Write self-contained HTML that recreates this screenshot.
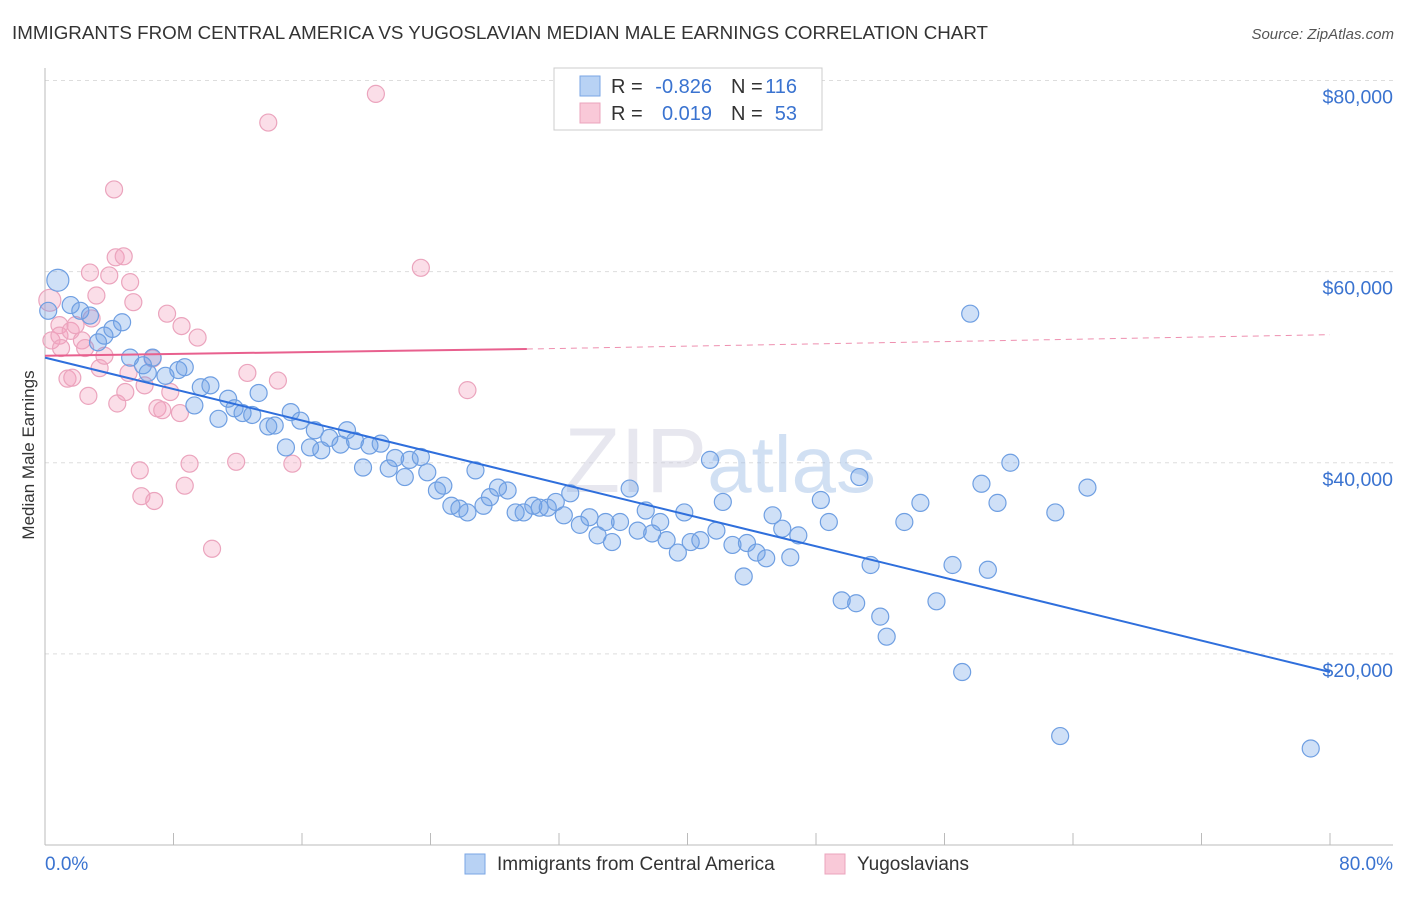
<!DOCTYPE html>
<html><head><meta charset="utf-8">
<style>
body{margin:0;background:#fff;font-family:"Liberation Sans",sans-serif;}
svg text{font-family:"Liberation Sans",sans-serif;}
</style></head>
<body>
<svg id="chart" width="1406" height="892" viewBox="0 0 1406 892" xmlns="http://www.w3.org/2000/svg">
<text x="12" y="39" font-size="18" fill="#333" textLength="976" lengthAdjust="spacingAndGlyphs">IMMIGRANTS FROM CENTRAL AMERICA VS YUGOSLAVIAN MEDIAN MALE EARNINGS CORRELATION CHART</text>
<text x="1394" y="39" font-size="15" fill="#555" text-anchor="end" font-style="italic">Source: ZipAtlas.com</text>
<text transform="translate(34,455) rotate(-90)" font-size="17" fill="#333" text-anchor="middle">Median Male Earnings</text>
<g id="grid"></g>
<text x="720" y="492" font-size="92" text-anchor="middle" fill="#ccd" opacity="0.45" font-family="Liberation Serif">ZIP<tspan fill="#9bbbe6" font-family="Liberation Sans" font-size="80">atlas</tspan></text>
<g id="pts"></g>
<g id="lines"></g>
<g>
<rect x="554" y="68" width="268" height="62" fill="#fff" stroke="#ccc"/>
<rect x="580" y="76" width="20" height="20" fill="#b8d2f4" stroke="#7aa6e4"/>
<rect x="580" y="103" width="20" height="20" fill="#f9c9d8" stroke="#eba4bd"/>
<text x="611" y="93" font-size="20" fill="#333">R =</text>
<text x="712" y="93" font-size="20" fill="#3a73d0" text-anchor="end">-0.826</text>
<text x="731" y="93" font-size="20" fill="#333">N =</text>
<text x="797" y="93" font-size="20" fill="#3a73d0" text-anchor="end">116</text>
<text x="611" y="120" font-size="20" fill="#333">R =</text>
<text x="712" y="120" font-size="20" fill="#3a73d0" text-anchor="end">0.019</text>
<text x="731" y="120" font-size="20" fill="#333">N =</text>
<text x="797" y="120" font-size="20" fill="#3a73d0" text-anchor="end">53</text>
</g>
<g>
<rect x="465" y="854" width="20" height="20" fill="#b8d2f4" stroke="#7aa6e4"/>
<text x="497" y="870" font-size="19" fill="#333">Immigrants from Central America</text>
<rect x="825" y="854" width="20" height="20" fill="#f9c9d8" stroke="#eba4bd"/>
<text x="857" y="870" font-size="19" fill="#333">Yugoslavians</text>
</g>
<text x="45" y="870" font-size="19" fill="#3a73d0">0.0%</text>
<text x="1393" y="870" font-size="19" fill="#3a73d0" text-anchor="end">80.0%</text>
</svg>
<script>
const yTicks=[20000,40000,60000,80000];
const yTickLabels=["$20,000","$40,000","$60,000","$80,000"];
const xTicks=[0,8,16,24,32,40,48,56,64,72,80];
const blueX=[0.8,1.6,2.2,2.8,0.2,3.7,4.2,4.8,3.3,5.3,6.7,6.1,6.4,7.5,8.3,8.7,9.7,10.3,9.3,10.8,11.4,11.8,12.3,12.9,13.3,13.9,14.3,15.0,15.3,15.9,16.5,16.8,17.2,17.7,18.4,18.8,19.3,19.8,20.2,20.9,21.4,21.8,22.4,22.7,23.4,23.8,24.4,24.8,25.3,25.8,26.3,26.8,27.3,27.7,28.2,28.8,29.3,29.8,30.4,30.8,31.3,31.8,32.3,32.7,33.3,33.9,34.4,34.9,35.3,35.8,36.4,36.9,37.4,37.8,38.3,38.7,39.4,39.8,40.2,40.8,41.4,41.8,42.2,42.8,43.5,43.7,44.3,44.9,45.3,45.9,46.4,46.9,48.3,48.8,49.6,50.5,50.7,51.4,52.0,52.4,53.5,54.5,55.5,56.5,57.1,57.6,58.3,58.7,59.3,60.1,62.9,63.2,64.9,78.8];
const blueY=[59.1,56.5,55.9,55.4,55.9,53.3,54.0,54.7,52.6,51.0,51.0,50.2,49.4,49.1,49.7,50.0,47.9,48.1,46.0,44.6,46.7,45.7,45.2,45.0,47.3,43.8,43.9,41.6,45.3,44.4,41.6,43.4,41.3,42.6,41.9,43.4,42.3,39.5,41.8,42.0,39.4,40.5,38.5,40.3,40.6,39.0,37.1,37.6,35.5,35.2,34.8,39.2,35.5,36.4,37.4,37.1,34.8,34.8,35.5,35.3,35.3,35.9,34.5,36.8,33.5,34.3,32.4,33.8,31.7,33.8,37.3,32.9,35.0,32.6,33.8,31.9,30.6,34.8,31.7,31.9,40.3,32.9,35.9,31.4,28.1,31.6,30.6,30.0,34.5,33.1,30.1,32.4,36.1,33.8,25.6,25.3,38.5,29.3,23.9,21.8,33.8,35.8,25.5,29.3,18.1,55.6,37.8,28.8,35.8,40.0,34.8,11.4,37.4,10.1];
const pinkX=[0.3,0.4,0.9,0.9,1.0,1.4,1.7,1.6,1.9,2.3,2.7,2.8,2.9,3.2,2.5,3.4,3.7,4.0,4.3,4.4,4.5,4.9,5.0,5.3,5.5,5.2,5.9,6.0,6.7,6.8,6.2,7.0,7.3,7.6,7.8,8.4,8.5,8.7,9.0,9.5,10.4,11.9,12.6,13.9,14.5,15.4,20.6,23.4,26.3];
const pinkY=[57.0,52.8,54.4,53.3,52.0,48.8,48.9,53.8,54.4,52.8,47.0,59.9,55.1,57.5,52.0,49.9,51.2,59.6,68.6,61.5,46.2,61.6,47.4,58.9,56.8,49.4,39.2,36.5,50.9,36.0,48.1,45.7,45.5,55.6,47.4,45.2,54.3,37.6,39.9,53.1,31.0,40.1,49.4,75.6,48.6,39.9,78.6,60.4,47.6];
const blueTrend=[[0,51.0],[80,18.1]];
const pinkTrend=[[0,51.2],[30,51.9],[80,53.4]];
const NS="http://www.w3.org/2000/svg";
const sx=v=>45+v*(1330-45)/80;
const sy=v=>845-v*(845-80.5)/80000;
function mk(tag,attrs,parent){const e=document.createElementNS(NS,tag);for(const k in attrs)e.setAttribute(k,attrs[k]);parent.appendChild(e);return e;}
const grid=document.getElementById('grid');
yTicks.forEach((t,i)=>{
 const l=mk('line',{x1:45,x2:1393,y1:sy(t),y2:sy(t),stroke:'#ddd','stroke-dasharray':'4,4'},grid);
 
 
 const tx=mk('text',{x:1393,y:sy(t)+23,'font-size':19.5,fill:'#3a73d0','text-anchor':'end'},grid);
 tx.textContent=yTickLabels[i];
 
 
});
const topLine=mk('line',{x1:45,x2:1393,y1:80.5,y2:80.5,stroke:'#ddd','stroke-dasharray':'4,4'},grid);


const yAxisLine=mk('line',{x1:45,x2:45,y1:68,y2:845,stroke:'#bbb'},grid);


const xAxisLine=mk('line',{x1:45,x2:1393,y1:845,y2:845,stroke:'#bbb'},grid);


xTicks.forEach(t=>{
 const l=mk('line',{x1:sx(t),x2:sx(t),y1:833,y2:845,stroke:'#bbb'},grid);
 
 
});
const pts=document.getElementById('pts');
pinkX.forEach((x,i)=>{
 const c=mk('circle',{cx:sx(x),cy:sy(pinkY[i]*1000),r:i==0?11:8.5,fill:'rgba(244,160,190,0.35)',stroke:'#eba4bd','stroke-width':1.2},pts);
 
 
});
blueX.forEach((x,i)=>{
 const c=mk('circle',{cx:sx(x),cy:sy(blueY[i]*1000),r:i==0?11:8.5,fill:'rgba(110,160,232,0.33)',stroke:'#6f9fe2','stroke-width':1.2},pts);
 
 
});
const lines=document.getElementById('lines');
const bl=mk('line',{x1:sx(blueTrend[0][0]),y1:sy(blueTrend[0][1]*1000),x2:sx(blueTrend[1][0]),y2:sy(blueTrend[1][1]*1000),stroke:'#2f6fdc','stroke-width':2},lines);


const pl=mk('line',{x1:sx(pinkTrend[0][0]),y1:sy(pinkTrend[0][1]*1000),x2:sx(pinkTrend[1][0]),y2:sy(pinkTrend[1][1]*1000),stroke:'#e8608e','stroke-width':2},lines);


const pd=mk('line',{x1:sx(pinkTrend[1][0]),y1:sy(pinkTrend[1][1]*1000),x2:sx(pinkTrend[2][0]),y2:sy(pinkTrend[2][1]*1000),stroke:'#e8608e','stroke-width':1,'stroke-dasharray':'6,5',opacity:0.7},lines);


</script>
</body></html>
